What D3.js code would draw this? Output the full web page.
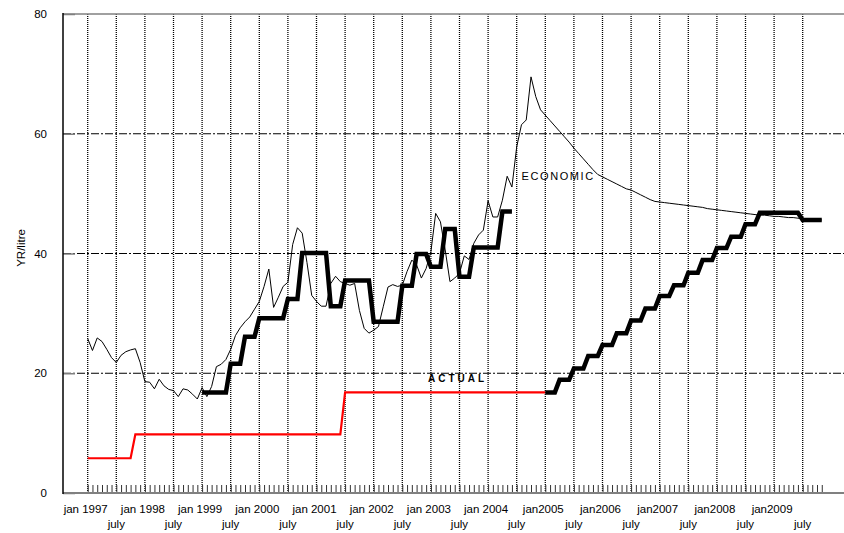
<!DOCTYPE html>
<html>
<head>
<meta charset="utf-8">
<script src="https://cdn.jsdelivr.net/npm/d3@7"></script>
<style>
  html, body { margin: 0; padding: 0; background: #fff; }
  svg { display: block; font-family: "Liberation Sans", Arial, sans-serif; }
</style>
</head>
<body>
<svg id="chart" width="844" height="533"></svg>
<script>
// Monthly series, month index 0 = jan 1997.

// Economic price, YR/litre, one value per month (jan 1997 .. nov 2009)
const economic = [
  25.8, 23.8, 25.9, 25.3, 24.0, 22.6, 21.8, 23.0, 23.6, 23.9,
  24.1, 21.8, 18.6, 18.5, 17.4, 19.0, 17.9, 17.3, 17.1, 16.1,
  17.4, 17.2, 16.5, 15.7, 17.6, 16.1, 17.8, 21.1, 21.5, 22.3,
  24.0, 26.3, 27.6, 28.6, 29.4, 30.7, 32.0, 34.5, 37.4, 31.0,
  32.7, 34.5, 35.2, 41.5, 44.3, 43.4, 38.5, 33.0, 32.0, 31.2,
  31.2, 35.0, 36.2, 35.3, 35.0, 34.7, 35.0, 30.5, 27.5, 26.7,
  27.2, 27.8, 31.1, 34.4, 34.8, 34.5, 34.7, 37.0, 38.9, 38.1,
  35.9, 37.5, 40.3, 46.7, 45.3, 40.6, 35.3, 35.9, 36.7, 39.6,
  39.0, 41.7, 43.1, 43.9, 48.8, 46.1, 46.1, 48.9, 52.9, 51.1,
  57.8, 61.5, 62.3, 69.5, 66.2, 64.0, 63.1, 62.2, 61.3, 60.4,
  59.5, 58.6, 57.6, 56.7, 55.8, 54.9, 54.0, 53.2, 52.8, 52.4,
  52.0, 51.6, 51.2, 50.8, 50.6, 50.2, 49.8, 49.4, 49.0, 48.7,
  48.6, 48.5, 48.4, 48.3, 48.2, 48.1, 48.0, 47.9, 47.8, 47.7,
  47.5, 47.4, 47.3, 47.2, 47.1, 47.0, 46.9, 46.8, 46.7, 46.6,
  46.5, 46.4, 46.4, 46.3, 46.2, 46.2, 46.1, 46.0, 46.0, 45.9,
  45.8, 45.8, 45.7, 45.7, 45.6
];

// Actual price, jan 1997 .. jan 2005
const actual = [
  5.8, 5.8, 5.8, 5.8, 5.8, 5.8, 5.8, 5.8, 5.8, 5.8,
  9.8, 9.8, 9.8, 9.8, 9.8, 9.8, 9.8, 9.8, 9.8, 9.8,
  9.8, 9.8, 9.8, 9.8, 9.8, 9.8, 9.8, 9.8, 9.8, 9.8,
  9.8, 9.8, 9.8, 9.8, 9.8, 9.8, 9.8, 9.8, 9.8, 9.8,
  9.8, 9.8, 9.8, 9.8, 9.8, 9.8, 9.8, 9.8, 9.8, 9.8,
  9.8, 9.8, 9.8, 9.8, 16.8, 16.8, 16.8, 16.8, 16.8, 16.8,
  16.8, 16.8, 16.8, 16.8, 16.8, 16.8, 16.8, 16.8, 16.8, 16.8,
  16.8, 16.8, 16.8, 16.8, 16.8, 16.8, 16.8, 16.8, 16.8, 16.8,
  16.8, 16.8, 16.8, 16.8, 16.8, 16.8, 16.8, 16.8, 16.8, 16.8,
  16.8, 16.8, 16.8, 16.8, 16.8, 16.8, 16.8
];

// Adjusted price path, jan 1999 .. jun 2004
const pathStartA = 24;
const pathA = [
  16.8, 16.8, 16.8, 16.8, 16.8, 16.8, 21.6, 21.6, 21.6, 26.1,
  26.1, 26.1, 29.2, 29.2, 29.2, 29.2, 29.2, 29.2, 32.4, 32.4,
  32.4, 40.1, 40.1, 40.1, 40.1, 40.1, 40.1, 31.2, 31.2, 31.2,
  35.5, 35.5, 35.5, 35.5, 35.5, 35.5, 28.6, 28.6, 28.6, 28.6,
  28.6, 28.6, 34.6, 34.6, 34.6, 39.9, 39.9, 39.9, 37.8, 37.8,
  37.8, 44.1, 44.1, 44.1, 36.1, 36.1, 36.1, 41.0, 41.0, 41.0,
  41.0, 41.0, 41.0, 47.0, 47.0, 47.0
];

// Adjusted price path, jan 2005 .. nov 2009
const pathStartB = 96;
const pathB = [
  16.8, 16.8, 16.8, 18.9, 18.9, 18.9, 20.8, 20.8, 20.8, 22.9,
  22.9, 22.9, 24.7, 24.7, 24.7, 26.7, 26.7, 26.7, 28.8, 28.8,
  28.8, 30.8, 30.8, 30.8, 32.9, 32.9, 32.9, 34.7, 34.7, 34.7,
  36.8, 36.8, 36.8, 38.9, 38.9, 38.9, 40.9, 40.9, 40.9, 42.8,
  42.8, 42.8, 44.9, 44.9, 44.9, 46.8, 46.8, 46.8, 46.8, 46.8,
  46.8, 46.8, 46.8, 46.8, 45.6, 45.6, 45.6, 45.6, 45.6
];

const janLabels = [
  "jan 1997", "jan 1998", "jan 1999", "jan 2000", "jan 2001", "jan 2002", "jan 2003",
  "jan 2004", "jan2005", "jan2006", "jan2007", "jan2008", "jan2009"
];
const julyLabels = [
  "july", "july", "july", "july", "july", "july", "july",
  "july", "july", "july", "july", "july", "july"
];
const yTicks = [0, 20, 40, 60, 80];
const yGrid = [20, 40, 60];

// ---- layout ----
const frameLeft = 63, frameRight = 844, frameTop = 14, frameBottom = 493;
const labelSize = 11.5;

const svg = d3.select("#chart");
const x = d3.scaleLinear().domain([0, 150]).range([87.7, 802.7]);
const y = d3.scaleLinear().domain([0, 80]).range([frameBottom, frameTop]);

// vertical dotted grid at every jan / july
const halfYears = d3.range(0, 151, 6);
svg.append("g")
  .selectAll("line")
  .data(halfYears)
  .join("line")
  .attr("x1", d => x(d)).attr("x2", d => x(d))
  .attr("y1", frameTop).attr("y2", frameBottom)
  .attr("stroke", "#000")
  .attr("stroke-width", 1.3)
  .attr("stroke-dasharray", "1,1");

// horizontal dash-dot grid
svg.append("g")
  .selectAll("line")
  .data(yGrid)
  .join("line")
  .attr("x1", frameLeft).attr("x2", frameRight)
  .attr("y1", d => y(d)).attr("y2", d => y(d))
  .attr("stroke", "#000")
  .attr("stroke-width", 1)
  .attr("stroke-dasharray", "8,2,2,2");

// monthly ticks on the bottom axis
const monthTicks = d3.range(0, economic.length);
const xAxis = d3.axisBottom(x)
  .tickValues(monthTicks)
  .tickSizeInner(-8)
  .tickSizeOuter(0)
  .tickFormat("");
const gx = svg.append("g")
  .attr("transform", `translate(0,${frameBottom})`)
  .call(xAxis);
gx.select(".domain").remove();
gx.selectAll(".tick line").attr("stroke", "#333").attr("stroke-width", 1);

// frame: top and bottom grey rules, black left axis
svg.append("line")
  .attr("x1", frameLeft).attr("x2", frameRight)
  .attr("y1", frameTop).attr("y2", frameTop)
  .attr("stroke", "#808080").attr("stroke-width", 1.6);
svg.append("line")
  .attr("x1", frameLeft).attr("x2", frameRight)
  .attr("y1", frameBottom).attr("y2", frameBottom)
  .attr("stroke", "#808080").attr("stroke-width", 2);

const yAxis = d3.axisLeft(y)
  .tickValues(yTicks)
  .tickSizeInner(-12)
  .tickSizeOuter(0)
  .tickPadding(16)
  .tickFormat(d3.format("d"));
const gy = svg.append("g")
  .attr("transform", `translate(${frameLeft},0)`)
  .call(yAxis);
gy.select(".domain").remove();
gy.selectAll(".tick line").attr("stroke", "#808080").attr("stroke-width", 1.5);
gy.selectAll(".tick text")
  .attr("font-size", labelSize)
  .attr("fill", "#000")
  .attr("font-family", "Liberation Sans, Arial, sans-serif");

svg.append("line")
  .attr("x1", frameLeft).attr("x2", frameLeft)
  .attr("y1", frameTop - 1).attr("y2", frameBottom + 1)
  .attr("stroke", "#000").attr("stroke-width", 1.5);

// x labels: two rows
svg.append("g")
  .selectAll("text")
  .data(janLabels)
  .join("text")
  .attr("x", (d, i) => x(i * 12) - 2)
  .attr("y", 513)
  .attr("text-anchor", "middle")
  .attr("font-size", labelSize)
  .text(d => d);

svg.append("g")
  .selectAll("text")
  .data(julyLabels)
  .join("text")
  .attr("x", (d, i) => x(6 + i * 12))
  .attr("y", 527.5)
  .attr("text-anchor", "middle")
  .attr("font-size", labelSize)
  .text(d => d);

// y title
svg.append("text")
  .attr("transform", "translate(25,248) rotate(-90)")
  .attr("text-anchor", "middle")
  .attr("font-size", labelSize)
  .text("YR/litre");

// ---- series ----
const line = d3.line()
  .x(d => x(d[0]))
  .y(d => y(d[1]));

const withMonths = (arr, start) => arr.map((v, i) => [start + i, v]);

svg.append("path")
  .datum(withMonths(actual, 0))
  .attr("d", line)
  .attr("fill", "none")
  .attr("stroke", "#ff0000")
  .attr("stroke-width", 2.2);

svg.append("path")
  .datum(withMonths(economic, 0))
  .attr("d", line)
  .attr("fill", "none")
  .attr("stroke", "#000")
  .attr("stroke-width", 1);

[withMonths(pathA, pathStartA), withMonths(pathB, pathStartB)].forEach(seg => {
  svg.append("path")
    .datum(seg)
    .attr("d", line)
    .attr("fill", "none")
    .attr("stroke", "#000")
    .attr("stroke-width", 4.5)
    .attr("stroke-linejoin", "miter");
});

// series labels
svg.append("text")
  .attr("x", 521.5)
  .attr("y", 180)
  .attr("font-size", 11)
  .attr("letter-spacing", 1.6)
  .text("ECONOMIC");

svg.append("text")
  .attr("x", 428)
  .attr("y", 381.5)
  .attr("font-size", 10)
  .attr("font-weight", "bold")
  .attr("letter-spacing", 3)
  .text("ACTUAL");
</script>
</body>
</html>
